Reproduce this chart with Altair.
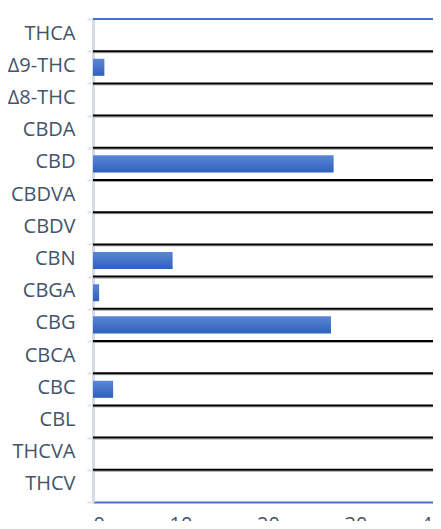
import altair as alt
import pandas as pd

categories = ["THCA", "Δ9-THC", "Δ8-THC", "CBDA", "CBD", "CBDVA", "CBDV", "CBN",
              "CBGA", "CBG", "CBCA", "CBC", "CBL", "THCVA", "THCV"]
values = [0, 1.3, 0, 0, 27.5, 0, 0, 9.1, 0.7, 27.2, 0, 2.3, 0, 0, 0]
x_ticks = [0, 10, 20, 30, 40]

df = pd.DataFrame({"compound": categories, "amount": values})
boundary_df = pd.DataFrame({"compound": categories[1:]})

W, H = 340, 483
FONT = "Open Sans"
LABEL = "#44546A"
BLUE = "#4472C4"

bar_y = alt.Scale(domain=categories, paddingInner=0.47, paddingOuter=0.235)
row_y = alt.Scale(domain=categories, paddingInner=0, paddingOuter=0)
xscale = alt.Scale(domain=[0, 40], nice=False, range=[0, 350])

grid_black = alt.Chart(boundary_df).mark_rule(color="black", strokeWidth=2).encode(
    y=alt.Y("compound:N", scale=row_y, bandPosition=0,
            axis=alt.Axis(title=None, tickBand="extent", grid=False,
                          domainColor="#D6DCE5", domainWidth=3,
                          tickColor="#E0E3E8", tickSize=6, tickWidth=2,
                          labelPadding=12, labelFont=FONT, labelFontSize=20,
                          labelColor=LABEL, labelOffset=-2)),
)

grid_shadow = alt.Chart(boundary_df).mark_rule(color="#A6A6A6", strokeWidth=1, yOffset=1.5).encode(
    y=alt.Y("compound:N", scale=row_y, bandPosition=0, axis=None),
)

bars = alt.Chart(df).mark_bar(
    color=alt.Gradient(
        gradient="linear",
        stops=[alt.GradientStop(color="#5b86d4", offset=0),
               alt.GradientStop(color="#2e61bd", offset=1)],
        x1=0, x2=0, y1=0, y2=1,
    )
).encode(
    x=alt.X("amount:Q", scale=xscale,
            axis=alt.Axis(values=x_ticks, title=None, grid=False, ticks=False,
                          tickSize=0, domainColor=BLUE, domainWidth=2,
                          labelFont=FONT, labelFontSize=20, labelColor=LABEL,
                          labelPadding=12)),
    y=alt.Y("compound:N", scale=bar_y, axis=None),
)

top_frame = alt.Chart(df).mark_rule(color=BLUE, strokeWidth=2).encode(y=alt.value(0))

chart = (
    alt.layer(grid_shadow, grid_black, bars, top_frame)
    .resolve_scale(y="independent")
    .properties(width=W, height=H,
                autosize=alt.AutoSizeParams(type="none"),
                padding={"left": 85, "top": 11, "right": 0, "bottom": 19})
    .configure_view(stroke=None)
)

chart.save("out.html", embed_options={"renderer": "svg", "actions": False})
